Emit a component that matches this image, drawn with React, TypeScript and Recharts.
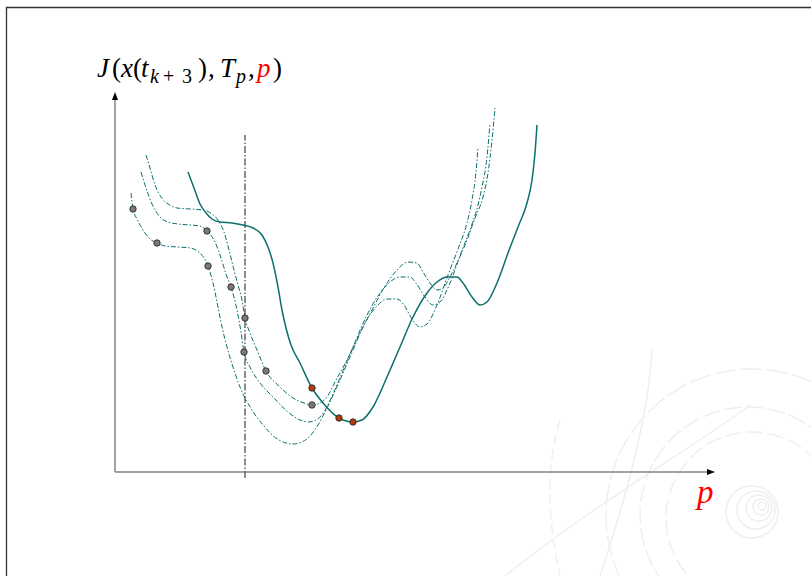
import React from 'react';
import {
  ComposedChart,
  Line,
  XAxis,
  YAxis,
  ReferenceLine,
  ReferenceDot,
  Customized,
} from 'recharts';

type Pt = { p: number; J: number };

// Cost J over the parameter p for the current step (solid curve)
const costCurrent: Pt[] = [
  { p: 7.3, J: 30.0 }, { p: 7.9, J: 28.4 }, { p: 8.5, J: 26.8 }, { p: 9.1, J: 25.9 },
  { p: 9.7, J: 25.3 }, { p: 10.5, J: 25.0 }, { p: 11.7, J: 24.9 }, { p: 12.8, J: 24.7 },
  { p: 13.8, J: 24.4 }, { p: 14.7, J: 23.7 }, { p: 15.3, J: 22.5 }, { p: 15.8, J: 20.9 },
  { p: 16.3, J: 18.5 }, { p: 16.7, J: 16.2 }, { p: 17.1, J: 14.4 }, { p: 17.6, J: 12.7 },
  { p: 18.5, J: 10.9 }, { p: 19.7, J: 8.4 }, { p: 20.8, J: 6.9 }, { p: 22.4, J: 5.4 },
  { p: 23.8, J: 5.0 }, { p: 24.7, J: 5.2 }, { p: 25.8, J: 6.5 }, { p: 27.2, J: 9.5 },
  { p: 28.5, J: 12.5 }, { p: 29.8, J: 15.5 }, { p: 31.2, J: 17.9 }, { p: 32.2, J: 19.0 },
  { p: 33.2, J: 19.5 }, { p: 34.2, J: 19.5 }, { p: 34.8, J: 18.9 }, { p: 35.7, J: 17.5 },
  { p: 36.5, J: 16.7 }, { p: 37.2, J: 17.0 }, { p: 38.2, J: 18.9 }, { p: 39.3, J: 21.9 },
  { p: 40.3, J: 24.5 }, { p: 41.2, J: 26.9 }, { p: 41.7, J: 29.2 }, { p: 42.0, J: 31.9 },
  { p: 42.2, J: 34.7 },
];

// Cost curves of the earlier steps (dash-dot)
const costPrev1: Pt[] = [
  { p: 3.1, J: 31.7 }, { p: 3.5, J: 30.4 }, { p: 4.0, J: 28.7 }, { p: 4.6, J: 27.5 },
  { p: 5.3, J: 26.8 }, { p: 6.2, J: 26.4 }, { p: 7.5, J: 26.3 }, { p: 8.8, J: 26.2 },
  { p: 9.7, J: 25.8 }, { p: 10.3, J: 25.2 }, { p: 10.9, J: 24.0 }, { p: 11.4, J: 22.2 },
  { p: 11.9, J: 20.2 }, { p: 12.3, J: 18.7 }, { p: 12.7, J: 17.2 }, { p: 13.0, J: 15.4 },
  { p: 13.5, J: 13.9 }, { p: 14.2, J: 12.2 }, { p: 15.1, J: 10.1 }, { p: 16.5, J: 8.5 },
  { p: 17.8, J: 7.4 }, { p: 18.9, J: 6.9 }, { p: 19.7, J: 6.7 }, { p: 20.5, J: 6.9 },
  { p: 21.2, J: 7.5 }, { p: 22.0, J: 9.0 }, { p: 23.2, J: 11.2 }, { p: 24.5, J: 13.9 },
  { p: 25.8, J: 16.4 }, { p: 27.2, J: 18.9 }, { p: 28.2, J: 20.2 }, { p: 29.3, J: 21.0 },
  { p: 30.2, J: 20.9 }, { p: 30.8, J: 20.0 }, { p: 31.5, J: 18.9 }, { p: 32.2, J: 18.2 },
  { p: 32.8, J: 18.4 }, { p: 33.5, J: 19.5 }, { p: 34.2, J: 20.9 }, { p: 35.2, J: 23.2 },
  { p: 36.0, J: 25.4 }, { p: 36.8, J: 27.5 }, { p: 37.3, J: 29.9 }, { p: 37.7, J: 33.2 },
  { p: 38.0, J: 36.4 },
];

const costPrev2: Pt[] = [
  { p: 2.6, J: 30.0 }, { p: 3.1, J: 28.4 }, { p: 3.7, J: 26.8 }, { p: 4.5, J: 25.5 },
  { p: 5.3, J: 25.0 }, { p: 6.3, J: 24.8 }, { p: 7.5, J: 24.7 }, { p: 8.5, J: 24.6 },
  { p: 9.2, J: 24.1 }, { p: 10.0, J: 23.0 }, { p: 10.6, J: 21.4 }, { p: 11.1, J: 19.8 },
  { p: 11.6, J: 18.5 }, { p: 12.2, J: 16.2 }, { p: 12.6, J: 14.0 }, { p: 12.9, J: 12.0 },
  { p: 13.5, J: 10.5 }, { p: 14.5, J: 8.9 }, { p: 15.8, J: 7.5 }, { p: 17.3, J: 6.0 },
  { p: 18.5, J: 5.2 }, { p: 19.3, J: 5.0 }, { p: 20.1, J: 5.2 }, { p: 20.9, J: 6.0 },
  { p: 21.8, J: 7.8 }, { p: 22.7, J: 9.9 }, { p: 23.8, J: 12.5 }, { p: 25.1, J: 15.5 },
  { p: 26.5, J: 17.9 }, { p: 27.5, J: 19.0 }, { p: 28.5, J: 19.5 }, { p: 29.5, J: 19.5 },
  { p: 30.1, J: 18.9 }, { p: 31.0, J: 17.5 }, { p: 31.8, J: 16.7 }, { p: 32.5, J: 17.0 },
  { p: 33.5, J: 18.9 }, { p: 34.6, J: 21.9 }, { p: 35.6, J: 24.5 }, { p: 36.3, J: 26.7 },
  { p: 36.7, J: 28.5 }, { p: 37.2, J: 31.5 }, { p: 37.5, J: 34.9 },
];

const costPrev3: Pt[] = [
  { p: 1.6, J: 27.9 }, { p: 1.8, J: 26.3 }, { p: 2.2, J: 25.3 }, { p: 2.8, J: 24.2 },
  { p: 3.5, J: 23.3 }, { p: 4.2, J: 22.9 }, { p: 5.0, J: 22.6 }, { p: 6.3, J: 22.5 },
  { p: 7.5, J: 22.4 }, { p: 8.5, J: 21.9 }, { p: 9.3, J: 20.6 }, { p: 9.8, J: 18.9 },
  { p: 10.3, J: 16.5 }, { p: 10.7, J: 14.5 }, { p: 11.2, J: 12.5 }, { p: 11.8, J: 10.5 },
  { p: 12.5, J: 8.5 }, { p: 13.7, J: 6.2 }, { p: 14.8, J: 4.7 }, { p: 16.4, J: 3.2 },
  { p: 17.8, J: 2.8 }, { p: 18.7, J: 3.0 }, { p: 19.5, J: 3.6 }, { p: 20.3, J: 4.7 },
  { p: 21.2, J: 6.4 }, { p: 22.5, J: 9.2 }, { p: 23.8, J: 12.2 }, { p: 25.1, J: 15.1 },
  { p: 26.2, J: 16.6 }, { p: 27.2, J: 17.3 }, { p: 28.2, J: 17.3 }, { p: 28.9, J: 16.7 },
  { p: 29.7, J: 15.3 }, { p: 30.5, J: 14.5 }, { p: 31.2, J: 14.8 }, { p: 32.2, J: 16.7 },
  { p: 33.3, J: 19.7 }, { p: 34.3, J: 22.3 }, { p: 35.2, J: 24.9 }, { p: 35.7, J: 27.2 },
  { p: 36.1, J: 30.0 }, { p: 36.3, J: 32.5 },
];

// Evaluated parameter samples
const pastSamples: Pt[] = [
  { p: 1.8, J: 26.3 }, { p: 4.2, J: 22.9 }, { p: 9.3, J: 20.6 },
  { p: 9.2, J: 24.1 }, { p: 11.6, J: 18.5 }, { p: 12.9, J: 12.0 },
  { p: 13.0, J: 15.4 }, { p: 15.1, J: 10.1 }, { p: 19.7, J: 6.7 },
];
const currentSamples: Pt[] = [
  { p: 19.7, J: 8.4 }, { p: 22.4, J: 5.4 }, { p: 23.8, J: 5.0 },
];

// Position of the vertical boundary marker
const boundaryP = 13.0;
const boundaryRange = [-0.6, 33.7];

const P_MAX = 60;
const J_MAX = 38;

const TEAL = '#0b6f6c';
const MATH_FONT = 'Liberation Serif';

const XArrow = (props: any) => {
  const { cx, cy } = props;
  return (
    <g>
      <path d={`M${cx},${cy} L${cx - 8},${cy - 3} L${cx - 8},${cy + 3} Z`} fill="#000" />
      <text
        x={cx - 18}
        y={cy + 31}
        fontFamily={MATH_FONT}
        fontStyle="italic"
        fontSize={33}
        fill="#ff0000"
      >
        p
      </text>
    </g>
  );
};

const YArrow = (props: any) => {
  const { cx, cy } = props;
  const base = cy - 15;
  const sub = base + 6;
  return (
    <g>
      <path d={`M${cx},${cy} L${cx - 3},${cy + 8} L${cx + 3},${cy + 8} Z`} fill="#000" />
      <text y={base} fontFamily={MATH_FONT} fontSize={27} fill="#000">
        <tspan x={cx - 18} fontStyle="italic">J</tspan>
        <tspan x={cx - 3}>(</tspan>
        <tspan x={cx + 6} fontStyle="italic">x</tspan>
        <tspan x={cx + 18}>(</tspan>
        <tspan x={cx + 26} fontStyle="italic">t</tspan>
        <tspan x={cx + 35} y={sub} fontSize={20} fontStyle="italic">k</tspan>
        <tspan x={cx + 48} y={sub} fontSize={20}>+</tspan>
        <tspan x={cx + 67} y={sub} fontSize={20}>3</tspan>
        <tspan x={cx + 83} y={base}>)</tspan>
        <tspan x={cx + 93}>,</tspan>
        <tspan x={cx + 105} fontStyle="italic">T</tspan>
        <tspan x={cx + 121} y={sub} fontSize={20} fontStyle="italic">p</tspan>
        <tspan x={cx + 133} y={base}>,</tspan>
        <tspan x={cx + 142} fontStyle="italic" fill="#ff0000">p</tspan>
        <tspan x={cx + 158}>)</tspan>
      </text>
    </g>
  );
};

// Page frame and the faint seal in the lower right corner
const Backdrop = () => (
  <g>
    <g fill="none" stroke="#eeeeee" strokeWidth={1.4}>
      <circle cx={752} cy={515} r={146} strokeDasharray="22 4" />
      <circle cx={748} cy={515} r={108} strokeDasharray="18 4" />
      <circle cx={752} cy={518} r={86} strokeDasharray="16 5" />
      <circle cx={752} cy={512} r={26} />
      <circle cx={756} cy={510} r={19} />
      <circle cx={759} cy={508} r={13} />
      <circle cx={761} cy={507} r={8} />
      <circle cx={762} cy={506} r={4} />
      <path d="M652,350 C648,420 625,500 600,576" />
      <path d="M750,405 C690,450 600,500 505,576" />
      <path d="M560,420 C545,470 548,520 560,576" strokeDasharray="10 5" />
    </g>
    <path d="M6.5,576 L6.5,7.5 L811,7.5" fill="none" stroke="#333" strokeWidth={1.3} />
  </g>
);

export default function App() {
  return (
    <div style={{ position: 'absolute', left: 0, top: 0, width: 811, height: 576, background: '#fff' }}>
      <ComposedChart
        width={811}
        height={576}
        margin={{ top: 92, right: 96, bottom: 104, left: 115 }}
      >
        <Customized component={Backdrop} />
        <XAxis dataKey="p" type="number" domain={[0, P_MAX]} hide />
        <YAxis dataKey="J" type="number" domain={[0, J_MAX]} hide />

        <ReferenceLine
          segment={[{ x: 0, y: 0 }, { x: P_MAX - 0.7, y: 0 }]}
          stroke="#858585"
          strokeWidth={1.5}
          ifOverflow="visible"
        />
        <ReferenceLine
          segment={[{ x: 0, y: 0 }, { x: 0, y: J_MAX - 0.7 }]}
          stroke="#858585"
          strokeWidth={1.5}
          ifOverflow="visible"
        />
        <ReferenceLine
          segment={[{ x: boundaryP, y: boundaryRange[0] }, { x: boundaryP, y: boundaryRange[1] }]}
          stroke="#666"
          strokeWidth={1.5}
          strokeDasharray="7 2 1.5 2"
          ifOverflow="visible"
        />

        <Line data={costPrev1} dataKey="J" type="monotone" stroke={TEAL} strokeWidth={1}
          strokeDasharray="5 2 1.5 2" dot={false} activeDot={false} isAnimationActive={false} />
        <Line data={costPrev2} dataKey="J" type="monotone" stroke={TEAL} strokeWidth={1}
          strokeDasharray="5 2 1.5 2" dot={false} activeDot={false} isAnimationActive={false} />
        <Line data={costPrev3} dataKey="J" type="monotone" stroke={TEAL} strokeWidth={1}
          strokeDasharray="5 2 1.5 2" dot={false} activeDot={false} isAnimationActive={false} />
        <Line data={costCurrent} dataKey="J" type="monotone" stroke={TEAL} strokeWidth={1.5}
          dot={false} activeDot={false} isAnimationActive={false} />

        {pastSamples.map((s, i) => (
          <ReferenceDot key={`g${i}`} x={s.p} y={s.J} r={3.2} fill="#7a7a7a" stroke="#2a2a2a"
            strokeWidth={0.9} ifOverflow="visible" />
        ))}
        {currentSamples.map((s, i) => (
          <ReferenceDot key={`o${i}`} x={s.p} y={s.J} r={3.2} fill="#b23c08" stroke="#2a2a2a"
            strokeWidth={0.9} ifOverflow="visible" />
        ))}

        <ReferenceDot x={P_MAX} y={0} r={0} shape={XArrow} ifOverflow="visible" />
        <ReferenceDot x={0} y={J_MAX} r={0} shape={YArrow} ifOverflow="visible" />
      </ComposedChart>
    </div>
  );
}
